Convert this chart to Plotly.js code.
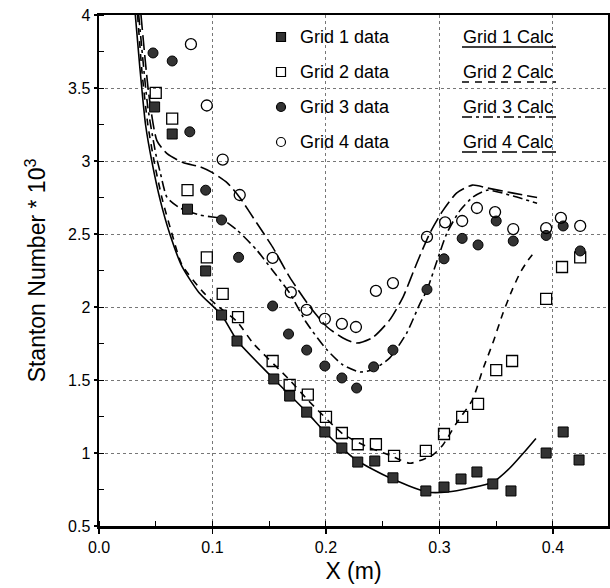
<!DOCTYPE html>
<html>
<head>
<meta charset="utf-8">
<script src="https://cdn.plot.ly/plotly-3.0.1.min.js"></script>
<style>html,body{margin:0;padding:0;background:#fff}#chart{width:610px;height:588px}</style>
</head>
<body>
<div id="chart"></div>
<script>
// ---- Data ----
const g1DataX = [0.049,0.0645,0.078,0.094,0.108,0.1216,0.154,0.168,0.183,0.199,0.214,0.228,0.243,0.259,0.288,0.304,0.319,0.333,0.347,0.363,0.394,0.409,0.423];
const g1DataY = [3.37,3.185,2.67,2.247,1.945,1.767,1.507,1.39,1.28,1.144,1.034,0.938,0.945,0.83,0.74,0.767,0.822,0.87,0.788,0.74,1.0,1.144,0.952];

const g2DataX = [0.050,0.0645,0.078,0.095,0.109,0.1225,0.153,0.168,0.184,0.200,0.214,0.228,0.244,0.260,0.288,0.304,0.320,0.334,0.350,0.364,0.394,0.408,0.424];
const g2DataY = [3.466,3.29,2.80,2.34,2.09,1.93,1.63,1.466,1.40,1.247,1.137,1.06,1.06,0.98,1.014,1.13,1.247,1.336,1.568,1.63,2.055,2.274,2.34];

const g3DataX = [0.0476,0.0645,0.080,0.094,0.108,0.123,0.153,0.167,0.183,0.199,0.214,0.227,0.242,0.259,0.289,0.304,0.320,0.334,0.350,0.365,0.394,0.409,0.424];
const g3DataY = [3.74,3.685,3.20,2.80,2.596,2.34,2.007,1.815,1.705,1.596,1.514,1.445,1.59,1.705,2.12,2.33,2.47,2.425,2.589,2.452,2.49,2.555,2.384];

const g4DataX = [0.081,0.095,0.109,0.124,0.153,0.169,0.183,0.199,0.214,0.2264,0.244,0.259,0.289,0.305,0.320,0.333,0.349,0.365,0.394,0.407,0.424];
const g4DataY = [3.80,3.38,3.01,2.767,2.336,2.10,1.98,1.918,1.884,1.863,2.11,2.164,2.48,2.58,2.589,2.678,2.65,2.534,2.54,2.61,2.555];

const g1CalcX = [0.032,0.036,0.041,0.047,0.054,0.062,0.073,0.088,0.108,0.122,0.154,0.183,0.199,0.214,0.228,0.256,0.289,0.307,0.327,0.347,0.362,0.374,0.385];
const g1CalcY = [4.0,3.64,3.25,2.98,2.73,2.51,2.28,2.10,1.945,1.767,1.507,1.28,1.144,1.034,0.945,0.83,0.733,0.733,0.76,0.80,0.897,1.0,1.10];

const g2CalcX = [0.034,0.038,0.043,0.049,0.056,0.064,0.073,0.092,0.104,0.1216,0.136,0.168,0.184,0.215,0.239,0.256,0.274,0.294,0.303,0.315,0.329,0.338,0.347,0.356,0.364,0.371,0.378,0.385];
const g2CalcY = [4.0,3.6,3.25,2.98,2.73,2.51,2.29,2.10,2.01,1.90,1.75,1.50,1.363,1.13,1.034,0.986,0.93,0.986,1.055,1.205,1.363,1.568,1.753,1.959,2.116,2.233,2.32,2.39];

const g3CalcX = [0.035,0.043,0.050,0.054,0.060,0.071,0.089,0.100,0.1066,0.1216,0.139,0.153,0.168,0.183,0.201,0.215,0.230,0.241,0.256,0.271,0.283,0.289,0.298,0.3066,0.318,0.3295,0.342,0.365,0.386];
const g3CalcY = [4.0,3.37,3.05,2.92,2.75,2.68,2.63,2.616,2.61,2.527,2.39,2.25,2.096,1.89,1.705,1.603,1.555,1.57,1.65,1.82,2.027,2.116,2.32,2.507,2.66,2.753,2.80,2.76,2.71];

const g4CalcX = [0.037,0.044,0.051,0.060,0.074,0.089,0.100,0.113,0.124,0.139,0.153,0.168,0.186,0.201,0.215,0.227,0.241,0.256,0.268,0.280,0.2916,0.303,0.315,0.329,0.342,0.365,0.386];
const g4CalcY = [4.0,3.45,3.14,3.05,2.99,2.96,2.92,2.85,2.75,2.575,2.41,2.205,2.0,1.863,1.788,1.753,1.79,1.91,2.07,2.30,2.507,2.66,2.78,2.835,2.815,2.78,2.75];

const xTicks = [0.0,0.1,0.2,0.3,0.4];
const xTickText = ['0.0','0.1','0.2','0.3','0.4'];
const yTicks = [0.5,1,1.5,2,2.5,3,3.5,4];
const yTickText = ['0.5','1','1.5','2','2.5','3','3.5','4'];

const dataNames = ['Grid 1 data','Grid 2 data','Grid 3 data','Grid 4 data'];
const calcNames = ['Grid 1 Calc','Grid 2 Calc','Grid 3 Calc','Grid 4 Calc'];

// ---- styles ----
const FONT = 'Liberation Sans, Arial, Helvetica, sans-serif';
const dashes = ['solid','7px,6px','10px,4px,3px,4px','15px,5px'];
const lw = 1.6;

const traces = [
  {x:g1CalcX,y:g1CalcY,mode:'lines',line:{color:'#000',width:lw,dash:dashes[0],shape:'spline',smoothing:0.6},name:calcNames[0]},
  {x:g2CalcX,y:g2CalcY,mode:'lines',line:{color:'#000',width:lw,dash:dashes[1],shape:'spline',smoothing:0.6},name:calcNames[1]},
  {x:g3CalcX,y:g3CalcY,mode:'lines',line:{color:'#000',width:lw,dash:dashes[2],shape:'spline',smoothing:0.6},name:calcNames[2]},
  {x:g4CalcX,y:g4CalcY,mode:'lines',line:{color:'#000',width:lw,dash:dashes[3],shape:'spline',smoothing:0.6},name:calcNames[3]},
  {x:g1DataX,y:g1DataY,mode:'markers',marker:{symbol:'square',size:10,color:'#333',line:{color:'#000',width:1}},name:dataNames[0]},
  {x:g2DataX,y:g2DataY,mode:'markers',marker:{symbol:'square-open',size:11,color:'#000',line:{width:1.3}},name:dataNames[1]},
  {x:g3DataX,y:g3DataY,mode:'markers',marker:{symbol:'circle',size:10,color:'#333',line:{color:'#000',width:1}},name:dataNames[2]},
  {x:g4DataX,y:g4DataY,mode:'markers',marker:{symbol:'circle-open',size:11,color:'#000',line:{width:1.3}},name:dataNames[3]}
];

// ---- custom legend (paper coordinates from pixel positions) ----
const L = 99, R = 608, T = 15, B = 526;
const px = v => (v - L) / (R - L);
const py = v => (B - v) / (B - T);
const rows = [37, 72, 107, 142];
const annotations = [];
const shapes = [];
rows.forEach((yy, i) => {
  annotations.push({xref:'paper',yref:'paper',x:px(298),y:py(yy),xanchor:'left',yanchor:'middle',text:dataNames[i],showarrow:false,font:{family:FONT,size:18,color:'#000'}});
  annotations.push({xref:'paper',yref:'paper',x:px(461),y:py(yy),xanchor:'left',yanchor:'middle',text:calcNames[i],showarrow:false,font:{family:FONT,size:18,color:'#000'}});
  shapes.push({type:'line',xref:'paper',yref:'paper',x0:px(462),x1:px(556),y0:py(yy+10),y1:py(yy+10),line:{color:'#000',width:1.6,dash:dashes[i]}});
  const s = 4.5;
  const isCircle = (i === 2 || i === 3);
  const filled = (i === 0 || i === 2);
  shapes.push({type:isCircle?'circle':'rect',xref:'paper',yref:'paper',x0:px(281-s),x1:px(281+s),y0:py(yy+s),y1:py(yy-s),
    line:{color:'#000',width:1.2},fillcolor:filled?'#333':'#fff'});
});

const layout = {
  width:610,height:588,
  margin:{l:99,r:2,t:15,b:62},
  paper_bgcolor:'#fff',plot_bgcolor:'#fff',
  showlegend:false,
  font:{family:FONT,color:'#000',size:16},
  xaxis:{
    range:[0,0.4485],tickvals:xTicks,ticktext:xTickText,
    ticks:'outside',ticklen:5,tickwidth:1.5,tickcolor:'#000',
    minor:{dtick:0.05,tick0:0,ticks:'inside',ticklen:5,tickwidth:1,tickcolor:'#000',showgrid:false},
    showline:true,linewidth:2.5,linecolor:'#000',mirror:true,
    showgrid:true,gridcolor:'#777',gridwidth:1,griddash:'dot',zeroline:false,
    tickfont:{family:FONT,size:16,color:'#000'},
    title:{text:'X (m)',font:{family:FONT,size:23,color:'#000'},standoff:8}
  },
  yaxis:{
    range:[0.5,4],tickvals:yTicks,ticktext:yTickText,
    ticks:'outside',ticklen:3,tickwidth:1.5,tickcolor:'#000',
    minor:{dtick:0.25,tick0:0.5,ticks:'inside',ticklen:5,tickwidth:1,tickcolor:'#000',showgrid:false},
    showline:true,linewidth:2.5,linecolor:'#000',mirror:true,
    showgrid:true,gridcolor:'#777',gridwidth:1,griddash:'dot',zeroline:false,
    tickfont:{family:FONT,size:16,color:'#000'},
    title:{text:'Stanton Number * 10<sup>3</sup>',font:{family:FONT,size:23,color:'#000'},standoff:16}
  },
  annotations:annotations,
  shapes:shapes
};

Plotly.newPlot('chart', traces, layout, {staticPlot:true,displayModeBar:false});
</script>
</body>
</html>
